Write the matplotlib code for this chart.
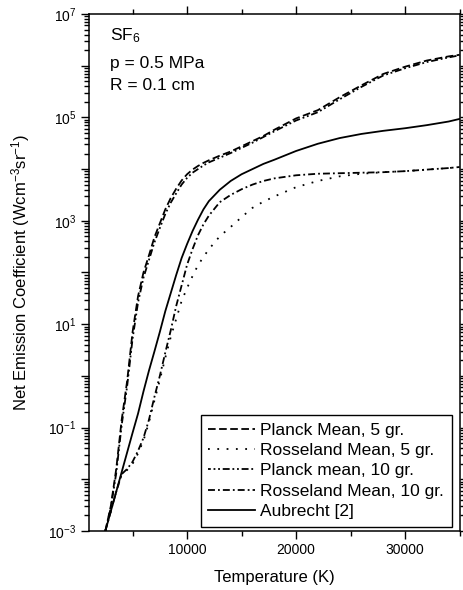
import numpy as np
import matplotlib
matplotlib.use("Agg")
import matplotlib.pyplot as plt
from matplotlib.ticker import MultipleLocator, LogLocator, FuncFormatter, NullFormatter

plt.rcParams['font.family'] = 'Liberation Sans'
plt.rcParams['mathtext.fontset'] = 'custom'
plt.rcParams['mathtext.rm'] = 'Liberation Sans'
plt.rcParams['mathtext.it'] = 'Liberation Sans'
plt.rcParams['mathtext.bf'] = 'Liberation Sans'
plt.rcParams['lines.scale_dashes'] = False

# temperature (K)
temp = [2500, 3000, 3500, 4000, 4500, 5000, 5500, 6000, 6500, 7000, 7500, 8000,
        8500, 9000, 9500, 10000, 10500, 11000, 11500, 12000, 13000, 14000, 15000,
        16000, 17000, 18000, 20000, 22000, 24000, 26000, 28000, 30000, 32000,
        34000, 35000]

# log10 of net emission coefficient (W cm^-3 sr^-1)
planck_5 = [-3.0, -2.52, -1.8, -0.85, -0.1, 0.85, 1.54, 2.0, 2.33, 2.68, 2.95, 3.22,
            3.44, 3.62, 3.78, 3.9, 3.99, 4.06, 4.12, 4.17, 4.26, 4.34, 4.44,
            4.54, 4.64, 4.76, 4.98, 5.14, 5.39, 5.62, 5.84, 5.98, 6.1,
            6.18, 6.21]
rosseland_5 = [-3.0, -2.62, -2.24, -1.9, -1.82, -1.7, -1.5, -1.25, -0.9, -0.48, -0.08, 0.35,
               0.75, 1.1, 1.45, 1.7, 1.93, 2.14, 2.3, 2.45, 2.7, 2.88, 3.07,
               3.25, 3.37, 3.47, 3.65, 3.77, 3.86, 3.91, 3.94, 3.96, 3.99,
               4.02, 4.04]
planck_10 = [-3.0, -2.55, -1.88, -0.95, -0.2, 0.72, 1.42, 1.9, 2.24, 2.58, 2.86, 3.13,
             3.35, 3.53, 3.7, 3.83, 3.93, 4.0, 4.07, 4.13, 4.22, 4.31, 4.41,
             4.51, 4.62, 4.73, 4.94, 5.1, 5.35, 5.59, 5.81, 5.95, 6.07,
             6.16, 6.2]
rosseland_10 = [-3.0, -2.62, -2.24, -1.9, -1.8, -1.66, -1.45, -1.2, -0.85, -0.41, 0.0, 0.45,
                0.88, 1.35, 1.75, 2.15, 2.45, 2.72, 2.93, 3.1, 3.36, 3.5, 3.61,
                3.7, 3.77, 3.82, 3.88, 3.91, 3.92, 3.93, 3.94, 3.96, 3.99,
                4.02, 4.04]
aubrecht = [-3.0, -2.62, -2.24, -1.86, -1.48, -1.1, -0.73, -0.3, 0.1, 0.47, 0.85, 1.25,
            1.6, 1.95, 2.28, 2.55, 2.8, 3.02, 3.22, 3.38, 3.6, 3.77, 3.9,
            4.0, 4.1, 4.18, 4.35, 4.49, 4.6, 4.68, 4.74, 4.79, 4.85,
            4.92, 4.97]

series = [
    ("Planck Mean, 5 gr.", planck_5, (0, (5.5, 2.5))),
    ("Rosseland Mean, 5 gr.", rosseland_5, (0, (1.3, 5.4))),
    ("Planck mean, 10 gr.", planck_10, (3, (5, 2, 1.3, 2, 1.3, 2))),
    ("Rosseland Mean, 10 gr.", rosseland_10, (0, (5, 2.2, 1.3, 2.2))),
    ("Aubrecht [2]", aubrecht, "-"),
]

fig = plt.figure(figsize=(4.63, 5.9), dpi=100)
ax = fig.add_axes([0.1922, 0.1, 0.8003, 0.8763])

for label, vals, ls in series:
    ax.plot(temp, 10 ** np.array(vals), color="black", lw=1.3, ls=ls, label=label)

ax.set_yscale("log")
ax.set_xlim(1000, 35000)
ax.set_ylim(1e-3, 1e7)

ax.xaxis.set_major_locator(MultipleLocator(10000))
ax.xaxis.set_minor_locator(MultipleLocator(5000))
ax.yaxis.set_major_locator(LogLocator(base=10, numticks=20))
ax.yaxis.set_minor_locator(LogLocator(base=10, subs=np.arange(2, 10), numticks=20))


def ylab(v, pos):
    e = int(round(np.log10(v)))
    if e % 2 == 0:
        return ""
    return r"10$^{%d}$" % e


ax.yaxis.set_major_formatter(FuncFormatter(ylab))
ax.yaxis.set_minor_formatter(NullFormatter())

ax.tick_params(which="both", direction="out", top=True, right=True, width=1,
               labelsize=10, colors="black")
ax.tick_params(which="major", length=6, pad=3)
ax.tick_params(which="minor", length=3.5)
for s in ax.spines.values():
    s.set_linewidth(1.1)

ax.set_xlabel("Temperature (K)", fontsize=12, labelpad=9)
ax.set_ylabel(r"Net Emission Coefficient (Wcm$^{-3}$sr$^{-1}$)", fontsize=12, labelpad=12)

ax.text(0.057, 0.950, r"SF$_6$", transform=ax.transAxes, fontsize=12.5, va="baseline")
ax.text(0.057, 0.8956, "p = 0.5 MPa", transform=ax.transAxes, fontsize=12.5, va="baseline")
ax.text(0.057, 0.853, "R = 0.1 cm", transform=ax.transAxes, fontsize=12.5, va="baseline")

leg = ax.legend(loc="lower right", bbox_to_anchor=(0.98, 0.008), borderaxespad=0,
                fontsize=12.5, handlelength=2.7, handletextpad=0.3, labelspacing=0.3,
                borderpad=0.45, fancybox=False, framealpha=1, edgecolor="black")
leg.get_frame().set_linewidth(1.0)

fig.savefig("out.png", dpi=100)
